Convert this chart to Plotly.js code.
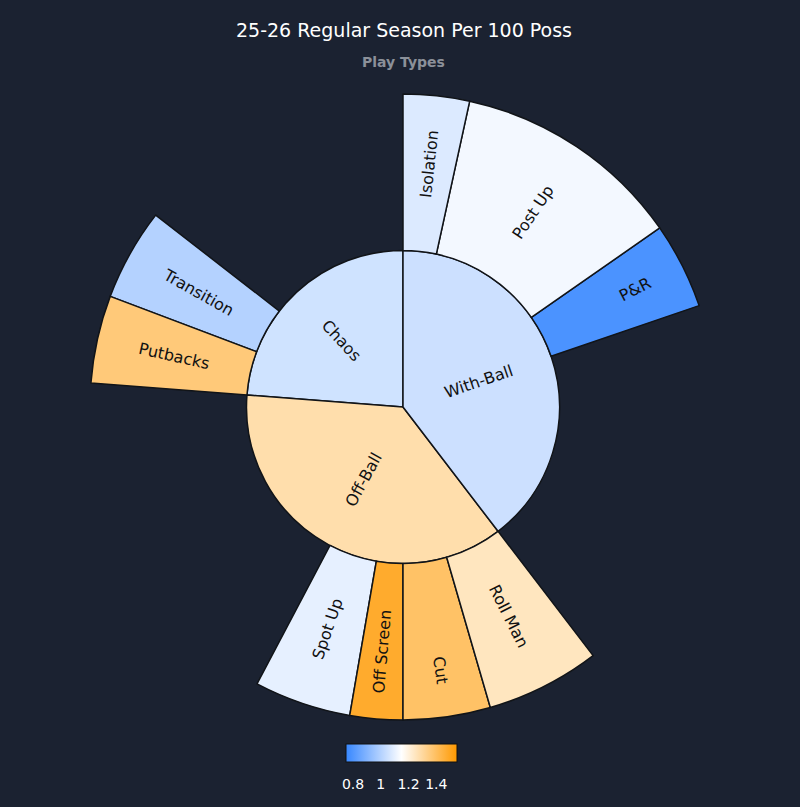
<!DOCTYPE html>
<html><head><meta charset="utf-8">
<script src="https://cdn.plot.ly/plotly-3.0.1.min.js"></script>
<style>html,body{margin:0;padding:0;background:#1b2231;}</style>
</head><body>
<div id="chart" style="width:800px;height:807px;"></div>
<script>
// Play-type groups (clockwise from 12 o'clock in the reference)
const groups = ["With-Ball","Off-Ball","Chaos"];
const groupFreq = [142.6,131.8,85.6];
const groupPPP = [1.048,1.28,1.055];
// Play types per group, clockwise order
const playTypes = {
  "With-Ball": ["Isolation","Post Up","P&R"],
  "Off-Ball": ["Roll Man","Cut","Off Screen","Spot Up"],
  "Chaos": ["Putbacks","Transition"]
};
const playFreq = {
  "With-Ball": [12.3,42.8,16.0],
  "Off-Ball": [21.2,16.2,9.8,18.0],
  "Chaos": [16.3,17.1]
};
const playPPP = {
  "With-Ball": [1.08,1.126,0.79],
  "Off-Ball": [1.25,1.39,1.48,1.10],
  "Chaos": [1.36,1.0]
};
const cbTicks = [0.8,1,1.2,1.4];

const colorscale = [[0,'#3787ff'],[0.5,'#ffffff'],[1,'#ff9900']];
const cmin = 0.75, cmax = 1.55;
function hex(c){return [parseInt(c.slice(1,3),16),parseInt(c.slice(3,5),16),parseInt(c.slice(5,7),16)];}
function scaleColor(v){
  let t = Math.max(0, Math.min(1,(v-cmin)/(cmax-cmin)));
  for(let i=1;i<colorscale.length;i++){
    if(t<=colorscale[i][0]){
      const a=colorscale[i-1], b=colorscale[i];
      const f=(t-a[0])/(b[0]-a[0]);
      const ca=hex(a[1]), cb=hex(b[1]);
      return 'rgb('+ca.map((x,k)=>Math.round(x+(cb[k]-x)*f)).join(',')+')';
    }
  }
  return colorscale[colorscale.length-1][1];
}

// Plotly draws counterclockwise, so build the hierarchy in reverse order,
// with the unused part of each group as a transparent leading child.
const ids=[], labels=[], texts=[], parents=[], values=[], colors=[], lineW=[];
const ccwGroups = groups.slice().reverse();
ccwGroups.forEach(g=>{
  const gi = groups.indexOf(g);
  ids.push(g); labels.push(g); parents.push(''); values.push(groupFreq[gi]);
  texts.push(g === 'With-Ball' ? '' : g);   // With-Ball label drawn radially below
  colors.push(scaleColor(groupPPP[gi])); lineW.push(1.5);
});
ccwGroups.forEach(g=>{
  const gi = groups.indexOf(g);
  const used = playFreq[g].reduce((s,v)=>s+v,0);
  ids.push('gap-'+g); labels.push(' '); texts.push(''); parents.push(g); values.push(groupFreq[gi]-used);
  colors.push('rgba(0,0,0,0)'); lineW.push(0);
  for(let k=playTypes[g].length-1;k>=0;k--){
    ids.push(playTypes[g][k]); labels.push(playTypes[g][k]); texts.push(playTypes[g][k]); parents.push(g);
    values.push(playFreq[g][k]); colors.push(scaleColor(playPPP[g][k])); lineW.push(1.5);
  }
});
const allPPP = groupPPP.concat(...groups.map(g=>playPPP[g]));

// radial label for the first group (mid-angle of its sector, clockwise from top)
const totalFreq = groupFreq.reduce((s,v)=>s+v,0);
const midAng = (groupFreq[0]/2)/totalFreq*2*Math.PI;
const plotW = 800-46-40, plotH = 807-94-87, labR = 80;

Plotly.newPlot('chart', [{
  type:'sunburst',
  ids: ids, labels: labels, parents: parents, values: values, text: texts,
  texttemplate:'%{text}',
  branchvalues:'total', sort:false, rotation:90,
  insidetextorientation:'radial',
  textfont:{family:'DejaVu Sans', size:16, color:'#111'},
  leaf:{opacity:1},
  marker:{colors: colors, line:{color:'#111418', width:lineW}},
  hoverinfo:'label'
},{
  type:'scatter', mode:'markers', x:allPPP.map(()=>null), y:allPPP.map(()=>null),
  showlegend:false, hoverinfo:'skip',
  marker:{color: allPPP, colorscale: colorscale, cmin:cmin, cmax:cmax, showscale:true,
    colorbar:{orientation:'h', x:0.498, xanchor:'center', y:-0.038, yanchor:'top',
      len:111, lenmode:'pixels', thickness:18, xpad:0, ypad:0,
      outlinecolor:'#111', outlinewidth:1,
      tickvals:cbTicks, ticktext:cbTicks.map(String),
      ticks:'outside', ticklen:10, tickcolor:'rgba(0,0,0,0)',
      tickfont:{color:'#ffffff', size:14, family:'DejaVu Sans'}}}
}], {
  width:800, height:807,
  paper_bgcolor:'#1b2231', plot_bgcolor:'#1b2231',
  margin:{l:46, r:40, t:94, b:87},
  xaxis:{visible:false}, yaxis:{visible:false},
  font:{family:'DejaVu Sans', color:'#ffffff'},
  title:{text:'25-26 Regular Season Per 100 Poss', x:0.505, xanchor:'center', y:0.962, yanchor:'middle',
    font:{size:19, color:'#ffffff', family:'DejaVu Sans'}},
  annotations:[
    {text:'<b>Play Types</b>', xref:'paper', yref:'paper', x:0.5014, y:1.0511,
      xanchor:'center', yanchor:'middle', showarrow:false,
      font:{size:14, color:'#8b9099', family:'DejaVu Sans'}},
    {text:groups[0], xref:'paper', yref:'paper',
      x:0.5 + labR*Math.sin(midAng)/plotW, y:0.5 + labR*Math.cos(midAng)/plotH,
      xanchor:'center', yanchor:'middle', showarrow:false,
      textangle: -(90 - midAng*180/Math.PI),
      font:{size:16, color:'#111', family:'DejaVu Sans'}}
  ]
}, {displayModeBar:false});
</script>
</body></html>
